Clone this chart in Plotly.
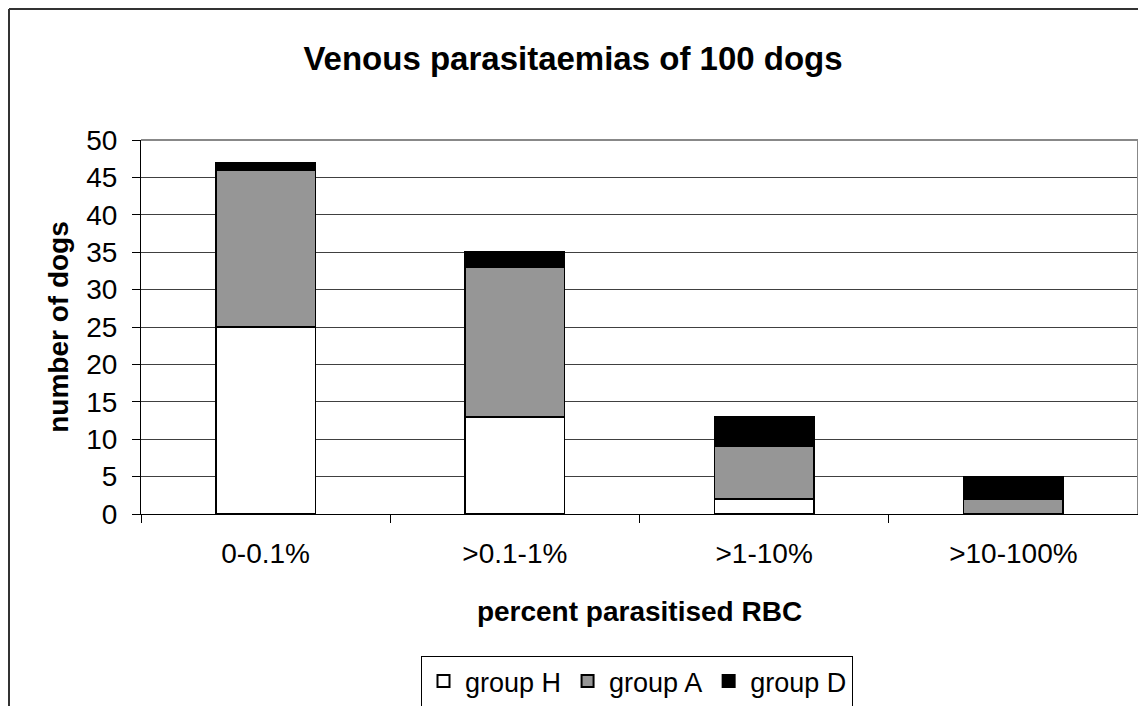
import plotly.graph_objects as go

categories = ["0-0.1%", ">0.1-1%", ">1-10%", ">10-100%"]
group_h = [25, 13, 2, 0]
group_a = [21, 20, 7, 2]
group_d = [1, 2, 4, 3]
y_ticks = [0, 5, 10, 15, 20, 25, 30, 35, 40, 45, 50]

FONT = "Liberation Sans, Arial, sans-serif"

fig = go.Figure()
for name, vals, col in [("group H", group_h, "#FFFFFF"),
                        ("group A", group_a, "#969696"),
                        ("group D", group_d, "#000000")]:
    fig.add_trace(go.Bar(x=categories, y=vals, name=name,
                         marker=dict(color=col, line=dict(color="#000000", width=1.5)),
                         width=0.4))

# the page has an 8px body margin; figure coordinates = screen - 8
OFF = 8
W, H = 1146 - OFF, 706 - OFF
L, T = 141 - OFF, 140 - OFF
R = W - (1138 - OFF)
B = H - (514 - OFF)
pw = W - L - R
ph = H - T - B

def px2x(sx):
    return (sx - OFF - L) / pw

def py2y(sy):
    return (H - B - (sy - OFF)) / ph

fig.update_layout(
    width=W, height=H,
    barmode="stack",
    paper_bgcolor="white", plot_bgcolor="white",
    margin=dict(l=L, r=R, t=T, b=B, autoexpand=False),
    font=dict(family=FONT, size=28, color="black"),
    title=dict(text="<b>Venous parasitaemias of 100 dogs</b>", x=(573 - OFF) / W, xref="container",
               xanchor="center", y=1 - (58 - OFF) / H, yanchor="middle", yref="container",
               font=dict(size=33, family=FONT)),
    showlegend=True,
    legend=dict(orientation="h", x=px2x(637), xanchor="center", y=py2y(656), yanchor="top",
                bordercolor="black", borderwidth=1, traceorder="normal",
                font=dict(size=27, family=FONT), itemsizing="constant",
                tracegroupgap=0, itemwidth=33),
    xaxis=dict(type="category", showgrid=False, showline=True, linecolor="black", linewidth=1,
               ticks="outside", tickson="boundaries", ticklen=8, tickcolor="black",
               ticklabelstandoff=14, automargin=False,
               title=dict(text="<b>percent parasitised RBC</b>", standoff=33,
                          font=dict(size=28, family=FONT)),
               tickfont=dict(size=28)),
    yaxis=dict(range=[0, 50], tickvals=y_ticks, showgrid=True, gridcolor="#404040", gridwidth=1,
               showline=True, linecolor="black", linewidth=1, ticks="outside", ticklen=8,
               tickcolor="black", zeroline=False, ticklabelstandoff=9, automargin=False,
               title=dict(text="<b>number of dogs</b>", standoff=9,
                          font=dict(size=28, family=FONT)),
               tickfont=dict(size=28)),
    shapes=[
        dict(type="line", xref="paper", yref="paper", x0=0, x1=1, y0=1, y1=1,
             line=dict(color="#888888", width=2)),
        dict(type="line", xref="paper", yref="paper", x0=1, x1=1, y0=0, y1=1,
             line=dict(color="#888888", width=2)),
        dict(type="line", xref="paper", yref="paper", x0=px2x(OFF + 1), x1=px2x(1160),
             y0=py2y(OFF + 1), y1=py2y(OFF + 1), line=dict(color="#333333", width=2)),
        dict(type="line", xref="paper", yref="paper", x0=px2x(OFF + 1), x1=px2x(OFF + 1),
             y0=py2y(OFF + 1), y1=py2y(720), line=dict(color="#333333", width=2)),
    ],
)

fig.write_html("out.html")
